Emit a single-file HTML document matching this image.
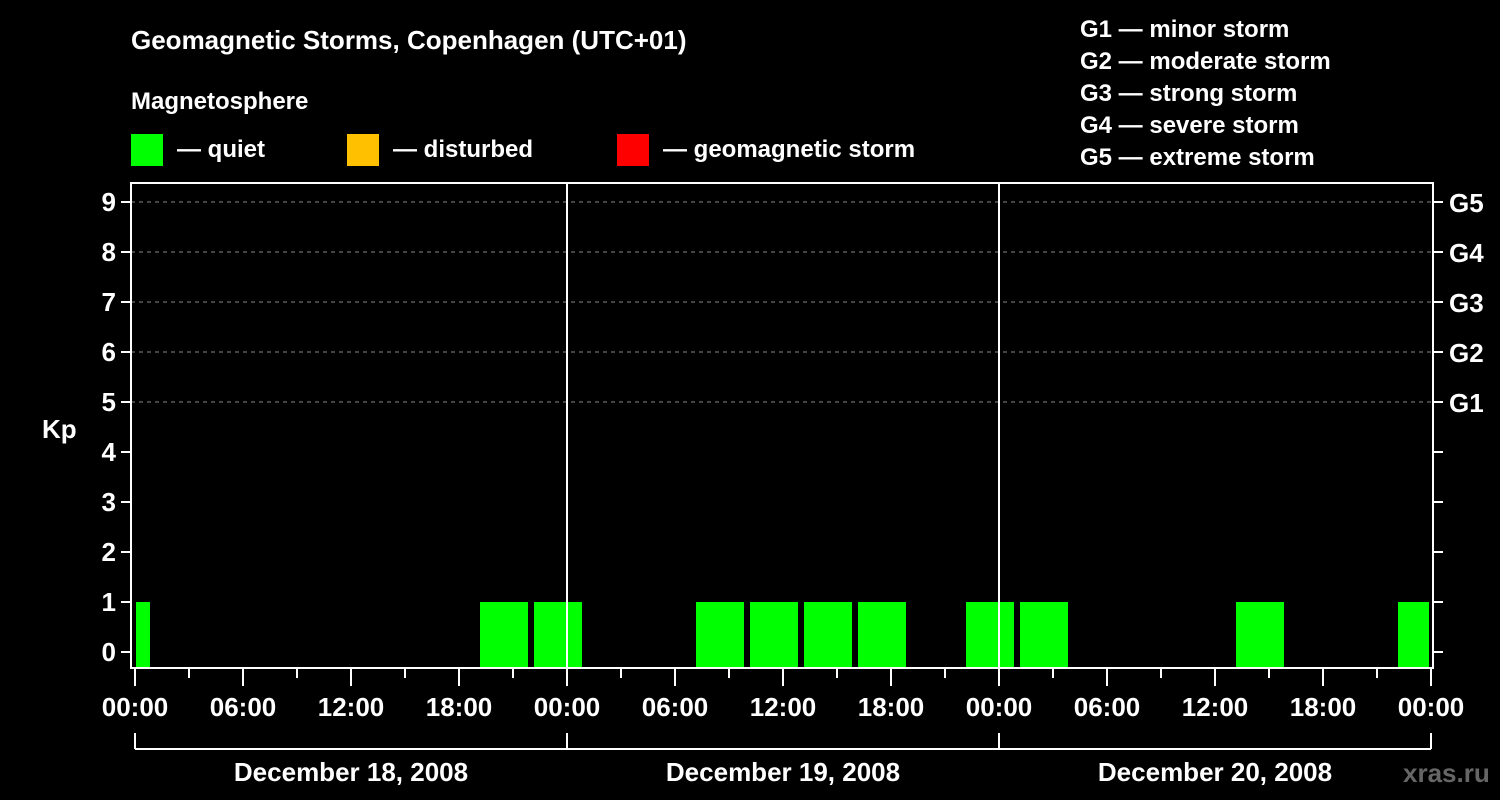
<!DOCTYPE html>
<html><head><meta charset="utf-8"><style>
body{margin:0;background:#000;}
svg{display:block;font-family:"Liberation Sans",sans-serif;font-weight:bold;}
</style></head><body>
<svg id="c" width="1500" height="800" viewBox="0 0 1500 800">
<rect width="1500" height="800" fill="#000"/>
<text x="131" y="49" fill="#fff" font-size="26">Geomagnetic Storms, Copenhagen (UTC+01)</text>
<text x="131" y="109" fill="#fff" font-size="24">Magnetosphere</text>
<g><rect x="131" y="134" width="32" height="32" fill="#00ff00"/><text x="177" y="157" fill="#fff" font-size="24">— quiet</text></g>
<g><rect x="347" y="134" width="32" height="32" fill="#ffc000"/><text x="393" y="157" fill="#fff" font-size="24">— disturbed</text></g>
<g><rect x="617" y="134" width="32" height="32" fill="#ff0000"/><text x="663" y="157" fill="#fff" font-size="24">— geomagnetic storm</text></g>
<g fill="#fff" font-size="24">
<text x="1080" y="37">G1 — minor storm</text><text x="1080" y="69">G2 — moderate storm</text><text x="1080" y="101">G3 — strong storm</text><text x="1080" y="133">G4 — severe storm</text><text x="1080" y="165">G5 — extreme storm</text>
</g>
<text x="42" y="438" fill="#fff" font-size="26">Kp</text>
<text x="1403" y="782" fill="#666" font-size="26">xras.ru</text>
<g id="grid"></g><g id="bars"></g><g id="axes"></g>
</svg>
<script>
const startHours=[-2,1,4,7,10,13,16,19,22,25,28,31,34,37,40,43,46,49,52,55,58,61,64,67,70];
const kpValues=[1,null,null,null,null,null,null,1,1,null,null,1,1,1,1,null,1,1,null,null,null,1,null,null,1];
const yTicks=[0,1,2,3,4,5,6,7,8,9];
const gLabels=["G1","G2","G3","G4","G5"];
const dayLabels=["December 18, 2008","December 19, 2008","December 20, 2008"];
const hourLabels=["00:00","06:00","12:00","18:00"];
const NS="http://www.w3.org/2000/svg";
const X0=135,PXH=18,Y0=652,PXK=50,TOP=183,BOT=668,L=131,R=1433;
const x=h=>X0+h*PXH, y=k=>Y0-k*PXK;
function mk(p,t,a){const e=document.createElementNS(NS,t);for(const k in a)e.setAttribute(k,a[k]);p.appendChild(e);return e;}
const grid=document.getElementById('grid'),bars=document.getElementById('bars'),axes=document.getElementById('axes');
yTicks.forEach(k=>{if(k>=5){const l=mk(grid,'line',{x1:L,x2:R,y1:y(k),y2:y(k),stroke:'#888','stroke-dasharray':'4,4'});

}});
kpValues.forEach((v,i)=>{if(v===null)return;let a=Math.max(x(startHours[i])+3,X0+1),b=Math.min(x(startHours[i]+3)-3,R-4);
const col=v>=5?'#ff0000':(v>=4?'#ffc000':'#00ff00');
const r=mk(bars,'rect',{x:a,y:Math.min(y(v),BOT),width:b-a,height:BOT-y(v),fill:col});

});
[1,2].forEach(d=>{const l=mk(axes,'line',{x1:x(24*d),x2:x(24*d),y1:TOP,y2:BOT,stroke:'#fff','stroke-width':2});

});
const fr=mk(axes,'rect',{x:L,y:TOP,width:R-L,height:BOT-TOP,fill:'none',stroke:'#fff','stroke-width':2});


yTicks.forEach(k=>{mk(axes,'line',{x1:121,x2:L,y1:y(k),y2:y(k),stroke:'#fff','stroke-width':2});
mk(axes,'line',{x1:R,x2:R+10,y1:y(k),y2:y(k),stroke:'#fff','stroke-width':2});
const t=mk(axes,'text',{x:116,y:y(k)+9,fill:'#fff','font-size':26,'text-anchor':'end'});t.textContent=k;


if(k>=5){const g=mk(axes,'text',{x:1449,y:y(k)+10,fill:'#fff','font-size':26});g.textContent=gLabels[k-5];

}});
for(let h=0;h<=72;h+=3){const major=h%6===0;mk(axes,'line',{x1:x(h),x2:x(h),y1:BOT,y2:major?686:678,stroke:'#fff','stroke-width':2});
if(major){const t=mk(axes,'text',{x:x(h),y:716,fill:'#fff','font-size':26,'text-anchor':'middle'});t.textContent=hourLabels[(h/6)%4];

}}
mk(axes,'line',{x1:x(0),x2:x(72),y1:749,y2:749,stroke:'#fff','stroke-width':2});
for(let d=0;d<=3;d++)mk(axes,'line',{x1:x(24*d),x2:x(24*d),y1:733,y2:749,stroke:'#fff','stroke-width':2});
dayLabels.forEach((s,d)=>{const t=mk(axes,'text',{x:x(24*d+12),y:781,fill:'#fff','font-size':26,'text-anchor':'middle'});t.textContent=s;

});
</script>
</body></html>
